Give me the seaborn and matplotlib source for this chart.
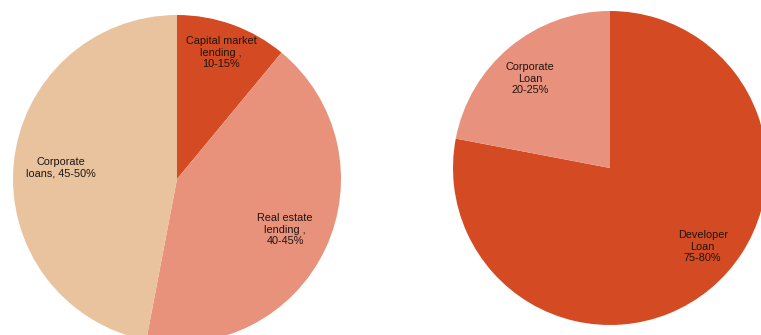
import matplotlib
matplotlib.use("Agg")
import matplotlib.pyplot as plt
import seaborn as sns

sns.set_theme(style="white")
plt.rcParams['font.family'] = ['Liberation Sans', 'DejaVu Sans']

# Left pie data (clockwise from 12 o'clock)
left_labels = ["Capital market\nlending ,\n10-15%", "Real estate\nlending ,\n40-45%", "Corporate\nloans, 45-50%"]
left_values = [11, 42, 47]
left_colors = ["#D44A22", "#E8917B", "#E8C39E"]

# Right pie data (clockwise from 12 o'clock)
right_labels = ["Developer\nLoan\n75-80%", "Corporate\nLoan\n20-25%"]
right_values = [78, 22]
right_colors = ["#D44A22", "#E8927D"]

W, H = 761, 335
fig = plt.figure(figsize=(W / 100, H / 100), dpi=100)
fig.patch.set_facecolor("white")

def add_pie(cx, cy, r, values, colors, labels, label_pos):
    ax = fig.add_axes([(cx - r) / W, (H - cy - r) / H, 2 * r / W, 2 * r / H])
    ax.pie(values, colors=colors, startangle=90, counterclock=False,
           radius=1, wedgeprops=dict(linewidth=0))
    ax.set_xlim(-1, 1)
    ax.set_ylim(-1, 1)
    ax.set_aspect("equal")
    ax.axis("off")
    for lab, (x, y) in zip(labels, label_pos):
        ax.text(x, y, lab, ha="center", va="center", fontsize=7.8,
                color="#1e1410", linespacing=1.2)
    return ax

add_pie(177, 179, 164, left_values, left_colors, left_labels,
        [(0.27, 0.77), (0.66, -0.31), (-0.71, 0.07)])
add_pie(610, 168, 157, right_values, right_colors, right_labels,
        [(0.59, -0.50), (-0.51, 0.57)])

fig.savefig("out.png", dpi=100, facecolor="white")
